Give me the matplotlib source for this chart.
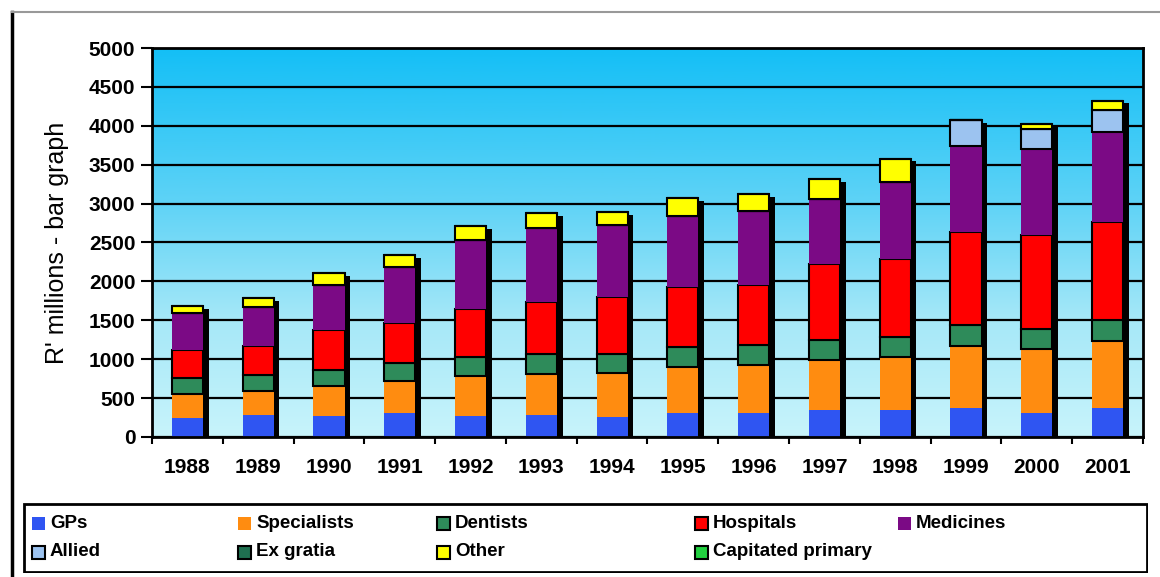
import matplotlib

matplotlib.use("Agg")

import matplotlib.pyplot as plt
import numpy as np
from matplotlib.colors import LinearSegmentedColormap
from matplotlib.lines import Line2D
from matplotlib.patches import Rectangle

plt.rcParams["font.family"] = ["Liberation Sans", "DejaVu Sans"]

years = ["1988", "1989", "1990", "1991", "1992", "1993", "1994",
         "1995", "1996", "1997", "1998", "1999", "2000", "2001"]

# R' millions per category, stacked bottom to top
gps = [244, 283, 274, 304, 274, 283, 261, 304, 304, 347, 347, 369, 312, 369]
specialists = [310, 310, 385, 415, 510, 525, 565, 600, 620, 640, 685, 800, 815, 865]
dentists = [210, 205, 200, 235, 250, 255, 240, 255, 255, 255, 255, 270, 255, 270]
hospitals = [355, 375, 515, 515, 615, 675, 735, 770, 770, 985, 1005, 1200, 1210, 1265]
medicines = [475, 500, 580, 710, 885, 945, 920, 910, 950, 835, 985, 1100, 1115, 1145]
allied = [0, 0, 0, 0, 0, 0, 0, 0, 0, 0, 0, 330, 255, 290]
ex_gratia = [0, 0, 0, 0, 0, 0, 0, 0, 0, 0, 0, 0, 0, 0]
other = [90, 115, 150, 155, 172, 192, 172, 227, 227, 257, 300, 0, 60, 120]
capitated = [0, 0, 0, 0, 0, 0, 0, 0, 0, 0, 0, 0, 0, 0]

series = [
    ("GPs", gps, "#2f55f2", False),
    ("Specialists", specialists, "#ff8c10", False),
    ("Dentists", dentists, "#2e8b5a", True),
    ("Hospitals", hospitals, "#ff0000", True),
    ("Medicines", medicines, "#7b0a85", False),
    ("Allied", allied, "#9cc3f0", True),
    ("Ex gratia", ex_gratia, "#1f7050", True),
    ("Other", other, "#ffff00", True),
    ("Capitated primary", capitated, "#22d040", True),
]

W, H = 1160, 577
fig = plt.figure(figsize=(W / 100, H / 100), dpi=100)
fig.patch.set_facecolor("white")
ax = fig.add_axes([152 / W, 140 / H, 991 / W, 389 / H])

x = np.arange(len(years))
ax.set_xlim(-0.5, len(years) - 0.5)
ax.set_ylim(0, 5000)

# sky-blue gradient behind the plot
grad = LinearSegmentedColormap.from_list(
    "sky", [(0.0, "#c8f4fb"), (0.3, "#a6e8f8"), (0.6, "#5fd3f6"), (1.0, "#14bff6")])
ax.imshow(np.linspace(0, 1, 256).reshape(-1, 1), aspect="auto", cmap=grad,
          extent=(-0.5, len(years) - 0.5, 0, 5000), origin="lower", zorder=0)

ax.set_yticks(np.arange(0, 5001, 500))
ax.yaxis.grid(True, color="black", lw=1.6)
ax.set_axisbelow(True)

width = 0.44
totals = np.sum([s[1] for s in series], axis=0)
# drop shadow, offset right and down
ax.bar(x + 0.08, totals + 20, width, bottom=-55, color="black", zorder=1.5)

bottom = np.zeros(len(years))
for name, vals, color, edged in series:
    vals = np.asarray(vals, dtype=float)
    ax.bar(x, vals, width, bottom=bottom, color=color,
           edgecolor="black" if edged else color,
           linewidth=1.5 if edged else 0, zorder=2)
    bottom += vals

for s in ax.spines.values():
    s.set_linewidth(2)
    s.set_zorder(3)

ax.set_xticks(x)
ax.set_xticklabels(years, fontsize=15, fontweight="bold")
ax.set_xticks(np.arange(-0.5, len(years), 1), minor=True)
ax.tick_params(axis="x", which="major", length=0, pad=15)
ax.tick_params(axis="x", which="minor", length=5, width=1.5, direction="out")
ax.tick_params(axis="y", length=8, width=1.5, pad=4, labelsize=15)
for lbl in ax.get_yticklabels():
    lbl.set_fontweight("bold")
ax.set_ylabel("R' millions - bar graph", fontsize=18, labelpad=14)

# outer frame
fig.add_artist(Line2D([12 / W, 12 / W], [0, 1 - 12 / H], color="black", lw=2.5))
fig.add_artist(Line2D([12 / W, 1], [1 - 12 / H, 1 - 12 / H], color="#999999", lw=1.5))

# legend box, laid out in pixel units
lax = fig.add_axes([23 / W, 4 / H, 1125 / W, 70 / H])
lax.set_xlim(0, 1125)
lax.set_ylim(0, 70)
lax.axis("off")
lax.add_patch(Rectangle((1, 1), 1123, 68, fill=False, edgecolor="black", lw=2))

col_x = [9, 215, 414, 672, 875]
row_y = [50, 21]
for i, (name, _, color, edged) in enumerate(series):
    r, c = divmod(i, 5)
    mx, my = col_x[c], row_y[r]
    lax.add_patch(Rectangle((mx, my - 6.5), 13, 13, facecolor=color,
                            edgecolor="black" if edged else color,
                            lw=1.5 if edged else 0))
    lax.text(mx + 18, my, name, fontsize=13.5, fontweight="bold",
             va="center", ha="left")

fig.savefig("out.png", dpi=100)
